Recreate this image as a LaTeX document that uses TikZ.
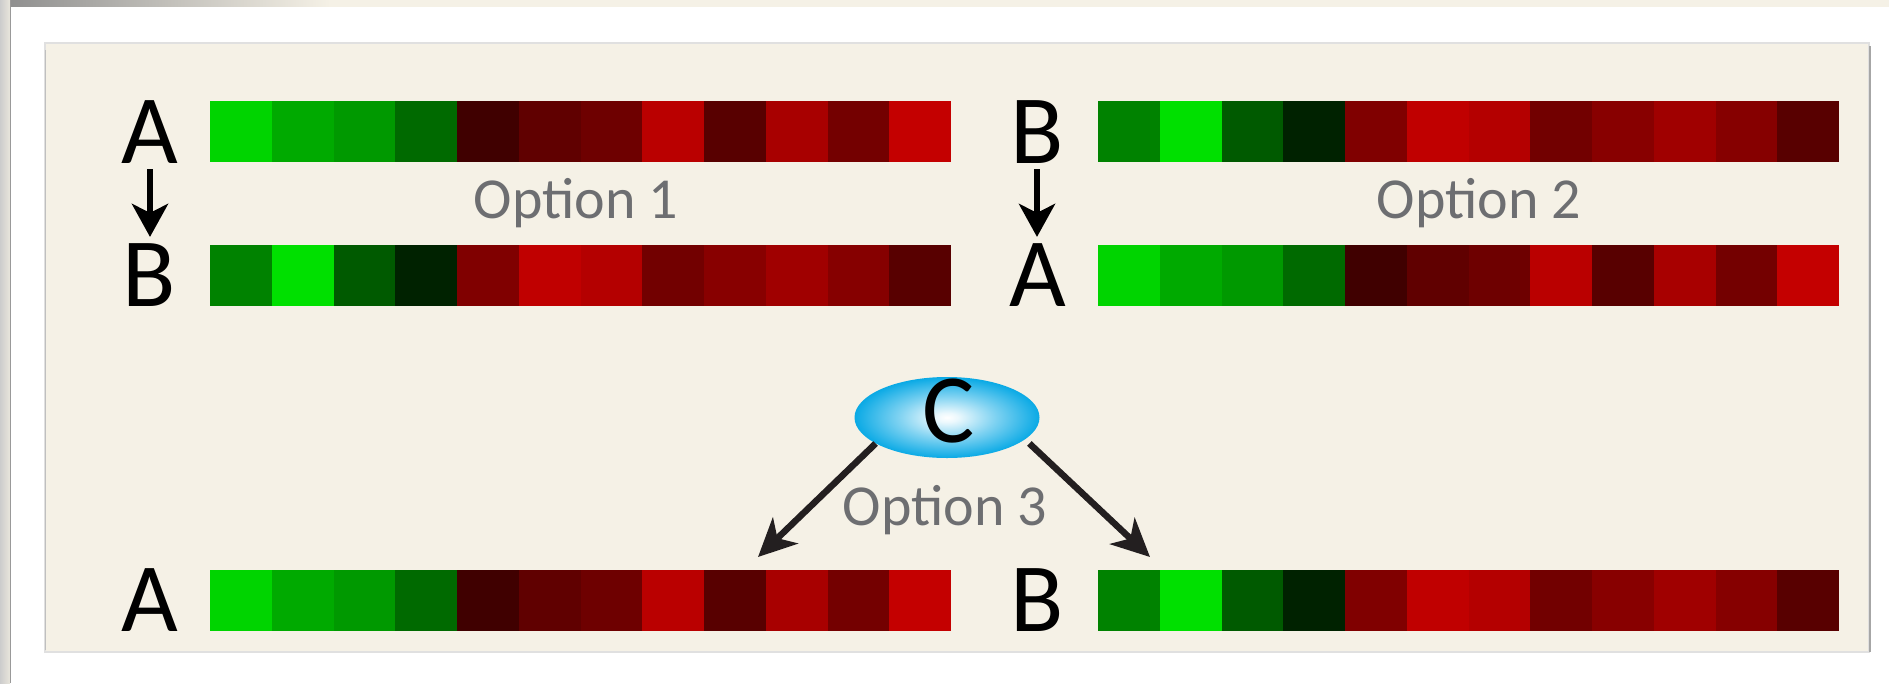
\documentclass[tikz,border=0pt]{standalone}
\usepackage{fontspec}
\setmainfont{Carlito}
\usetikzlibrary{arrows.meta,shapes.geometric}
\definecolor{panel}{HTML}{F5F1E6}
\definecolor{optgray}{HTML}{6D6E71}
\definecolor{cblue}{HTML}{00A6E4}
\definecolor{arrowc}{HTML}{231F20}
\pgfdeclareradialshading{cshade}{\pgfpoint{0bp}{0bp}}{color(0bp)=(white); color(3bp)=(cblue!8); color(13bp)=(cblue!50); color(26bp)=(cblue); color(50bp)=(cblue)}
\tikzset{
  letter/.style={font=\fontsize{98}{98}\selectfont, inner sep=0pt, anchor=base},
  opt/.style={font=\fontsize{58}{58}\selectfont, text=optgray, inner sep=0pt, anchor=base},
  arr/.style={draw=arrowc, line width=6.5pt, -{Stealth[length=38pt,width=36pt,inset=11pt]}},
  varr/.style={draw=black, line width=6.5pt, -{Stealth[length=33pt,width=36pt,inset=9pt]}},
  cnode/.style={ellipse, minimum width=185pt, minimum height=81pt, inner sep=0pt, shade, shading=cshade},
}
\newcommand{\colorbar}[3]{%
  \foreach \c [count=\i from 0] in #3 {
    \definecolor{cellc}{HTML}{\c}
    \fill[cellc] ({#1+\i*61.75},#2) rectangle ++(61.75,61);
  }}
\def\barA{00D400,00AA00,009900,006A00,400000,600000,6E0000,BA0000,580000,A80000,740000,C40000}
\def\barB{008200,00E000,005A00,002200,800000,C00000,B40000,720000,880000,A00000,860000,580000}
\begin{document}
\begin{tikzpicture}[x=1pt,y=-1pt]
\useasboundingbox (0,0) rectangle (1889,683);
\fill[white] (0,0) rectangle (1889,683);
% screenshot edges
\fill[panel] (0,0) rectangle (1889,7);
\shade[left color=black!45, right color=panel] (0,0) rectangle (330,6);
\shade[left color=black!20, right color=panel!90!gray] (0,0) rectangle (10,683);
\draw[black!40, line width=1.5pt] (10.5,7) -- (10.5,683);
% panel
\filldraw[fill=panel, draw=black!12, line width=1.2pt] (45,43) rectangle (1869,652);
\draw[black!35, line width=1.5pt] (1870,46) -- (1870,652);
\draw[black!25, line width=1pt] (45.5,50) -- (45.5,650);
% bars
\colorbar{210}{101}{\barA}
\colorbar{1098}{101}{\barB}
\colorbar{210}{245}{\barB}
\colorbar{1098}{245}{\barA}
\colorbar{210}{570}{\barA}
\colorbar{1098}{570}{\barB}
% letters
\node[letter] (A1) at (150,163) {A};
\node[letter] (B1) at (149,306) {B};
\node[letter] (B2) at (1037,163) {B};
\node[letter] (A2) at (1038,306) {A};
\node[letter] (A3) at (150,631) {A};
\node[letter] (B3) at (1037,631) {B};
% option labels
\node[opt] (o1) at (576,218) {Option 1};
\node[opt] (o2) at (1479,218) {Option 2};
\node[opt] (o3) at (945,525) {Option 3};
% C
\node[cnode] (C) at (947,417.5) {};
\node[letter] (Ct) at (949,442) {C};
% arrows
\draw[varr] ([yshift=-6pt]A1.south) -- ([yshift=6pt]A1.south |- B1.north);
\draw[varr] ([yshift=-6pt]B2.south) -- ([yshift=6pt]B2.south |- A2.north);
\coordinate (tl) at (758,557);
\coordinate (tr) at (1150,557);
\draw[arr] (C.200) -- (tl);
\draw[arr] ([xshift=11pt]C.-20) -- (tr);
\end{tikzpicture}
\end{document}
